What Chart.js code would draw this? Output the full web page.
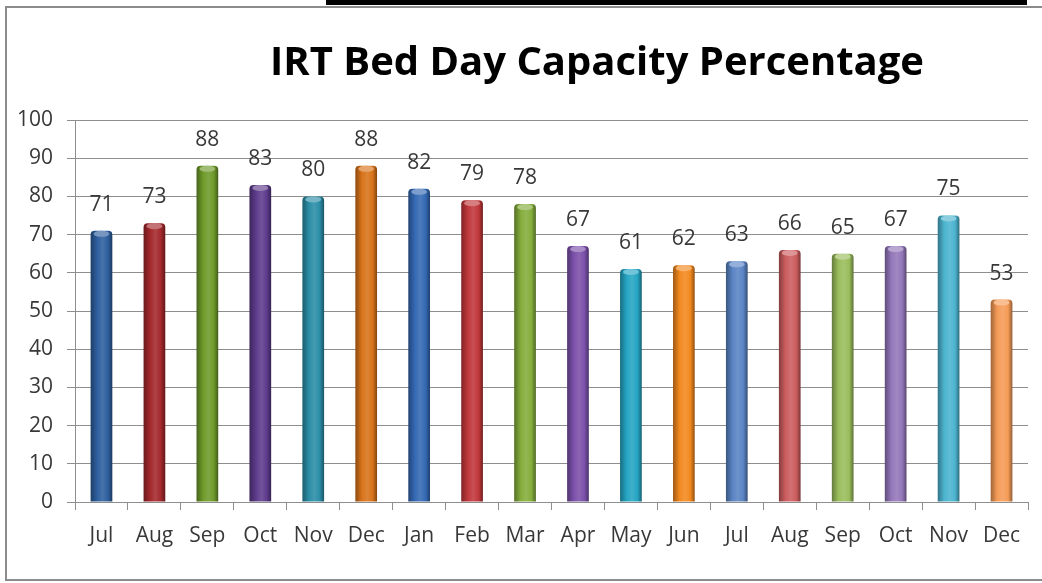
<!DOCTYPE html>
<html>
<head>
<meta charset="utf-8">
<title>IRT Bed Day Capacity Percentage</title>
<script src="https://cdn.jsdelivr.net/npm/chart.js@4.4.1/dist/chart.umd.min.js"></script>
<style>
  html, body { margin: 0; padding: 0; background: #fff; overflow: hidden; }
  #wrap { position: relative; width: 1042px; height: 583px; overflow: hidden; }
  #topbar { position: absolute; left: 326px; top: 0; width: 701px; height: 5px; background: #000; }
  #chart { position: absolute; left: 0; top: 0; }
</style>
</head>
<body>
<div id="wrap">
  <canvas id="chart" width="1042" height="583"></canvas>
  <div id="topbar"></div>
</div>
<script>
const TITLE = 'IRT Bed Day Capacity Percentage';
const months = ['Jul', 'Aug', 'Sep', 'Oct', 'Nov', 'Dec', 'Jan', 'Feb', 'Mar', 'Apr', 'May', 'Jun',
  'Jul', 'Aug', 'Sep', 'Oct', 'Nov', 'Dec'];
const capacity = [71, 73, 88, 83, 80, 88, 82, 79, 78, 67, 61, 62, 63, 66, 65, 67, 75, 53];
const barColors = [
  '#2e5f9e', '#a3282c', '#6e9a2a', '#5e3b8c', '#2a8da6', '#d8731a',
  '#3469b4', '#c0373b', '#84ad3c', '#7b50aa', '#25a5c3', '#f2891f',
  '#5a84c4', '#cc5c5e', '#9abd5c', '#9477ba', '#4cb4d0', '#f59b57',
];

const FONT = '"Open Sans", "DejaVu Sans", sans-serif';
const TEXT_COLOR = '#383838';
const GRID_COLOR = '#8e8e8e';

function mix(hex, target, amount) {
  const n = parseInt(hex.slice(1), 16);
  const r = (n >> 16) & 255, g = (n >> 8) & 255, b = n & 255;
  const t = target === 'white' ? 255 : 0;
  const f = (c) => Math.round(c + (t - c) * amount);
  return `rgb(${f(r)}, ${f(g)}, ${f(b)})`;
}

// outer chart frame (left, top and bottom edges only; right edge is cropped off)
const frame = {
  id: 'frame',
  beforeDraw(chart) {
    const ctx = chart.ctx;
    ctx.save();
    ctx.strokeStyle = '#8c8c8c';
    ctx.lineWidth = 2;
    ctx.beginPath();
    ctx.moveTo(chart.width, 7);
    ctx.lineTo(6, 7);
    ctx.lineTo(6, 580);
    ctx.lineTo(chart.width, 580);
    ctx.stroke();
    ctx.restore();
  },
};

// title sits a bit right of centre in the original, so draw it ourselves
const titleText = {
  id: 'titleText',
  afterDraw(chart) {
    const ctx = chart.ctx;
    ctx.save();
    ctx.font = `bold 40px ${FONT}`;
    ctx.fillStyle = '#000';
    ctx.textAlign = 'center';
    ctx.textBaseline = 'middle';
    ctx.fillText(TITLE, 597, 64);
    ctx.restore();
  },
};

// cylinder-like shading across each bar, built from the element geometry
const cylinderShade = {
  id: 'cylinderShade',
  beforeDatasetsDraw(chart) {
    const ctx = chart.ctx;
    chart.getDatasetMeta(0).data.forEach((bar, i) => {
      const left = bar.x - bar.width / 2;
      const right = bar.x + bar.width / 2;
      const grad = ctx.createLinearGradient(left, 0, right, 0);
      const base = barColors[i];
      grad.addColorStop(0, mix(base, 'black', 0.35));
      grad.addColorStop(0.3, base);
      grad.addColorStop(0.55, mix(base, 'white', 0.12));
      grad.addColorStop(0.8, base);
      grad.addColorStop(1, mix(base, 'black', 0.4));
      bar.options.backgroundColor = grad;
    });
  },
  afterDatasetsDraw(chart) {
    const ctx = chart.ctx;
    ctx.save();
    chart.getDatasetMeta(0).data.forEach((bar, i) => {
      ctx.fillStyle = mix(barColors[i], 'white', 0.35);
      ctx.beginPath();
      ctx.ellipse(bar.x, bar.y + 3, bar.width / 2 - 3, 3, 0, 0, Math.PI * 2);
      ctx.fill();
    });
    ctx.restore();
  },
};

const valueLabels = {
  id: 'valueLabels',
  afterDatasetsDraw(chart) {
    const ctx = chart.ctx;
    ctx.save();
    ctx.font = `21px ${FONT}`;
    ctx.fillStyle = TEXT_COLOR;
    ctx.textAlign = 'center';
    ctx.textBaseline = 'middle';
    chart.getDatasetMeta(0).data.forEach((bar, i) => {
      ctx.fillText(String(capacity[i]), bar.x, bar.y - 26);
    });
    ctx.restore();
  },
};

new Chart(document.getElementById('chart').getContext('2d'), {
  type: 'bar',
  data: {
    labels: months,
    datasets: [{
      label: 'Capacity %',
      data: capacity,
      backgroundColor: (c) => barColors[c.dataIndex],
      borderWidth: 0,
      borderRadius: { topLeft: 4, topRight: 4, bottomLeft: 0, bottomRight: 0 },
      borderSkipped: 'bottom',
      categoryPercentage: 1,
      barPercentage: 0.41,
    }],
  },
  options: {
    responsive: false,
    animation: false,
    events: [],
    layout: { padding: { left: 8, right: 14, top: 120, bottom: 0 } },
    plugins: {
      legend: { display: false },
      tooltip: { enabled: false },
      title: { display: false },
    },
    scales: {
      x: {
        grid: { display: true, drawOnChartArea: false, drawTicks: true, tickLength: 8, color: GRID_COLOR, offset: true },
        border: { display: true, color: GRID_COLOR },
        ticks: { color: TEXT_COLOR, font: { family: FONT, size: 21 }, padding: 13, maxRotation: 0, autoSkip: false },
        afterFit(scale) { scale.height = 81; },
      },
      y: {
        min: 0,
        max: 100,
        grid: { color: GRID_COLOR, tickLength: 8, drawTicks: true },
        border: { display: true, color: GRID_COLOR },
        ticks: { stepSize: 10, color: TEXT_COLOR, font: { family: FONT, size: 21 }, padding: 14 },
        afterFit(scale) { scale.width = 67; },
      },
    },
  },
  plugins: [frame, cylinderShade, valueLabels, titleText],
});
</script>
</body>
</html>
